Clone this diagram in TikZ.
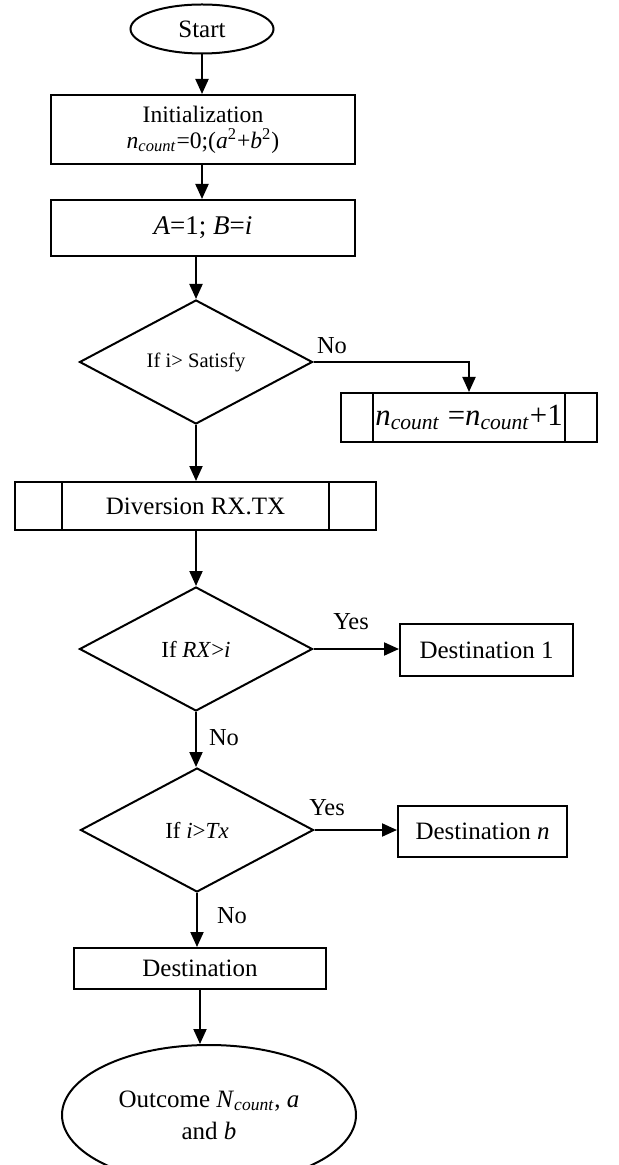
\documentclass[tikz,border=0pt]{standalone}
\usepackage{fontspec}
\setmainfont{Liberation Serif}
\usetikzlibrary{shapes.geometric,arrows.meta}
\begin{document}
\begin{tikzpicture}[x=0.5pt,y=-0.5pt,line width=1pt,
    flow/.style={-{Triangle[width=6.5pt,length=7.5pt]}},
    term/.style={draw,ellipse,inner sep=0pt,align=center,font=\fontsize{12.5}{16}\selectfont},
    proc/.style={draw,rectangle,inner sep=0pt,align=center,font=\fontsize{12.5}{14}\selectfont},
    subproc/.style={proc,path picture={
        \draw ([xshift=#1]path picture bounding box.north west) -- ([xshift=#1]path picture bounding box.south west)
              ([xshift=-#1]path picture bounding box.north east) -- ([xshift=-#1]path picture bounding box.south east);}},
    cond/.style={draw,diamond,inner sep=0pt,minimum width=116.5pt,minimum height=62pt,font=\fontsize{11.5}{13}\selectfont},
    lbl/.style={inner sep=0pt,font=\fontsize{12.2}{14}\selectfont}]
      \useasboundingbox (0,0) rectangle (618,1165);

      % main column
      \node[term,minimum width=71.5pt,minimum height=24.5pt] (start) at (202,29) {Start};
      \node[proc,minimum width=152pt,minimum height=34.5pt,font=\fontsize{11.8}{13}\selectfont] (init) at (203,129.5)
        {Initialization\\\textit{n}\textsubscript{\textit{count}}=0;(\textit{a}\textsuperscript{2}+\textit{b}\textsuperscript{2})};
      \node[proc,minimum width=152pt,minimum height=28pt,font=\fontsize{13.5}{15}\selectfont] (ab) at (203,228)
        {\textit{A}=1; \textit{B}=\textit{i}};
      \node[cond,font=\fontsize{10.3}{12}\selectfont] (sat) at (196,362) {If i> Satisfy};
      \node[subproc=23.5pt,minimum width=180.5pt,minimum height=24pt] (div) at (195.5,506) {Diversion RX.TX};
      \node[cond] (rx) at (196,649) {If \textit{RX}>\textit{i}};
      \node[cond] (tx) at (197,830) {If \textit{i}>\textit{Tx}};
      \node[proc,minimum width=126pt,minimum height=20.5pt] (dest) at (200,968.5) {Destination};
      \node[term,minimum width=147pt,minimum height=70pt] (out) at (209,1115)
        {Outcome \textit{N}\textsubscript{\textit{count}}, \textit{a}\\and \textit{b}};

      % side boxes
      \node[subproc=16pt,minimum width=128pt,minimum height=24.5pt,font=\fontsize{15.4}{17}\selectfont] (cnt) at (469,417.5)
        {\textit{n}\textsubscript{\textit{count}} =\textit{n}\textsubscript{\textit{count}}+1};
      \node[proc,minimum width=86.5pt,minimum height=26pt] (d1) at (486.5,650) {Destination 1};
      \node[proc,minimum width=84.5pt,minimum height=25.5pt] (dn) at (482.5,831.5) {Destination \textit{n}};

      % arrows
      \draw[flow] (start.south) -- (start.south |- init.north);
      \draw[flow] (start.south |- init.south) -- (start.south |- ab.north);
      \draw[flow] (sat.north |- ab.south) -- (sat.north);
      \draw[flow] (sat.east) -| (cnt.north);
      \draw[flow] (sat.south) -- (sat.south |- div.north);
      \draw[flow] (rx.north |- div.south) -- (rx.north);
      \draw[flow] (rx.east) -- (rx.east -| d1.west);
      \draw[flow] (rx.south) -- (rx.south |- tx.north);
      \draw[flow] (tx.east) -- (tx.east -| dn.west);
      \draw[flow] (tx.south) -- (tx.south |- dest.north);
      \draw[flow] (dest.south) -- (dest.south |- out.north);

      % branch labels
      \node[lbl] (no1) at (332,346) {No};
      \node[lbl] (yes1) at (351,622) {Yes};
      \node[lbl] (no2) at (224,738) {No};
      \node[lbl] (yes2) at (327,808) {Yes};
      \node[lbl] (no3) at (232,916) {No};
\end{tikzpicture}
\end{document}
